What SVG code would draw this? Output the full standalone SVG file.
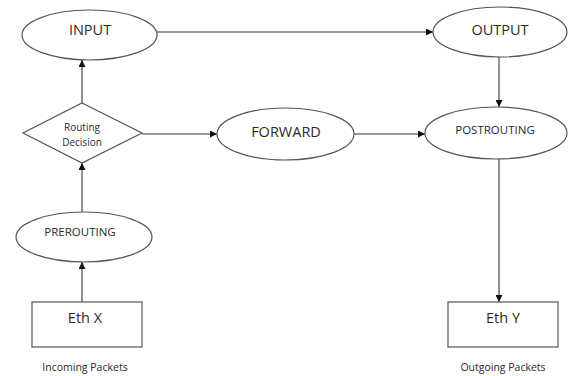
<svg xmlns="http://www.w3.org/2000/svg" width="568" height="376" viewBox="0 0 568 376">
<defs>
<marker id="ah" viewBox="0 0 10 10" refX="10" refY="5" markerWidth="7" markerHeight="7" markerUnits="userSpaceOnUse" orient="auto"><path d="M0,0 L10,5 L0,10 z" fill="#111"/></marker>
<style>
.s{fill:#fff;stroke:#555;stroke-width:1.2}
.c{fill:none;stroke:#333;stroke-width:1.1;marker-end:url(#ah)}
text{font-family:"Open Sans","Liberation Sans",sans-serif;fill:#2a2a2a;text-anchor:middle}
.l{font-size:14.5px}
.m{font-size:11.5px}
.sm{font-size:10px}
.b{font-size:10.5px}
</style>
</defs>
<rect width="568" height="376" fill="#fff"/>
<g id="connectors">
<line class="c" x1="157" y1="32" x2="433" y2="32"/>
<line class="c" x1="82" y1="103" x2="82" y2="60"/>
<line class="c" x1="142" y1="134" x2="217" y2="134"/>
<line class="c" x1="354" y1="134" x2="425" y2="134"/>
<line class="c" x1="499" y1="57" x2="499" y2="107"/>
<line class="c" x1="499" y1="159" x2="499" y2="302"/>
<line class="c" x1="82" y1="212" x2="82" y2="163"/>
<line class="c" x1="82" y1="302" x2="82" y2="262"/>
</g>
<g id="input"><ellipse class="s" cx="89.5" cy="35" rx="67.5" ry="25"/><text class="l" x="90" y="34.5">INPUT</text></g>
<g id="output"><ellipse class="s" cx="500" cy="32" rx="67" ry="25"/><text class="l" x="500" y="34.5">OUTPUT</text></g>
<g id="routing"><polygon class="s" points="82,103 142,133 82,163 23,133"/><text class="sm" x="82" y="131">Routing</text><text class="sm" x="82" y="145.5">Decision</text></g>
<g id="forward"><ellipse class="s" cx="285.5" cy="134" rx="68.5" ry="26"/><text class="l" x="286" y="137">FORWARD</text></g>
<g id="postrouting"><ellipse class="s" cx="496" cy="133" rx="71" ry="26"/><text class="m" x="495" y="134">POSTROUTING</text></g>
<g id="prerouting"><ellipse class="s" cx="84" cy="237" rx="68" ry="25"/><text class="m" x="80" y="236">PREROUTING</text></g>
<g id="ethx"><rect class="s" x="32" y="302" width="110" height="45"/><text class="l" x="85" y="322.5">Eth X</text></g>
<g id="ethy"><rect class="s" x="448" y="302" width="110" height="45"/><text class="l" x="503" y="322.5">Eth Y</text></g>
<text class="b" x="85" y="371">Incoming Packets</text>
<text class="b" x="503" y="371">Outgoing Packets</text>
</svg>
